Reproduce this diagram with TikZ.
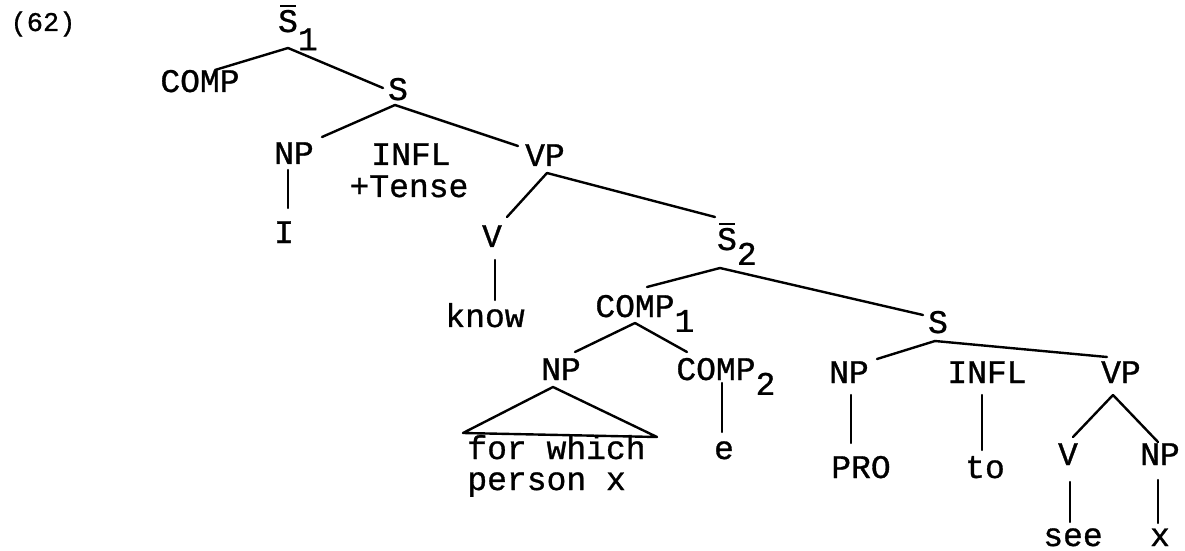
\documentclass[tikz,border=0pt]{standalone}
\usepackage{fontspec}
\setmainfont{Liberation Mono}
\newfontfamily\typewriter{Liberation Mono}[FakeBold=0.9]
\usetikzlibrary{calc}

% category with an overbar (S-bar)
\newcommand\ovl[1]{\rlap{\makebox[0.6em]{\raisebox{0.76em}{\rule{0.46em}{1.2pt}}}}#1}
% lowered index that does not widen the label
\newcommand\dn[2][0.45em]{\rlap{\raisebox{-#1}{#2}}}
% branch between two labels, each end offset from the label's base point
\newcommand\br[4]{\draw[branch] ($(#1.base)+(#2)$) -- ($(#3.base)+(#4)$);}

\begin{document}
\begin{tikzpicture}[x=0.5pt,y=-0.5pt,
  lbl/.style={anchor=base,inner sep=0pt,font=\typewriter\fontsize{16.5}{20}\selectfont},
  lblw/.style={lbl,anchor=base west},
  branch/.style={line width=1.2pt,line cap=round}]
\useasboundingbox (0,0) rectangle (1185,551);

\node[lbl,font=\typewriter\fontsize{13.5}{16}\selectfont] (num) at (43,31) {(62)};

% upper clause
\node[lbl] (s1)    at (288,32)  {\ovl{S}\dn[0.55em]{1}};
\node[lbl] (comp)  at (200,92)  {COMP};
\node[lbl] (s)     at (398,100) {S};
\node[lbl] (np1)   at (294,164) {NP};
\node[lbl] (infl1) at (411,165) {INFL};
\node[lbl] (tense) at (409,197) {+Tense};
\node[lbl] (vp1)   at (545,166) {VP};
\node[lbl] (i)     at (284,243) {I};
\node[lbl] (v1)    at (492,247) {V};
\node[lbl] (know)  at (485,327) {know};

% embedded clause
\node[lbl] (s2)    at (727,250) {\ovl{S}\dn{2}};
\node[lbl] (comp1) at (635,317) {COMP\dn{1}};
\node[lbl] (s3)    at (938,333) {S};
\node[lbl] (np2)   at (561,380) {NP};
\node[lbl] (comp2) at (716,380) {COMP\dn{2}};
\node[lblw] (fw)   at (467,459) {for which};
\node[lblw] (px)   at (467,490) {person x};
\node[lbl] (e)     at (724,459) {e};
\node[lbl] (np3)   at (849,383) {NP};
\node[lbl] (infl2) at (987,383) {INFL};
\node[lbl] (vp2)   at (1121,383) {VP};
\node[lbl] (pro)   at (861,478) {PRO};
\node[lbl] (to)    at (985,478) {to};
\node[lbl] (v2)    at (1068,465) {V};
\node[lbl] (np4)   at (1160,465) {NP};
\node[lbl] (see)   at (1073,546) {see};
\node[lbl] (x)     at (1160,546) {x};

% branches
\br{s1}{0,16}{comp}{15,-22}
\br{s1}{0,16}{s}{-15,-12}
\br{s}{-3,5}{np1}{28,-27}
\br{s}{-3,5}{vp1}{-27,-20}
\br{np1}{-6,6}{i}{4,-35}
\br{vp1}{2,7}{v1}{15,-30}
\br{vp1}{2,7}{s2}{-12,-33}
\br{v1}{3,13}{know}{10,-27}
\br{s2}{-7,18}{comp1}{12,-30}
\br{s2}{-7,18}{s3}{-15,-18}
\br{comp1}{0,6}{np2}{14,-28}
\br{comp1}{0,6}{comp2}{-29,-28}
\br{comp2}{6,3}{e}{-2,-27}
\br{s3}{-3,8}{np3}{28,-24}
\br{s3}{-3,8}{vp2}{-14,-26}
\br{np3}{2,12}{pro}{-10,-35}
\br{infl2}{-5,12}{to}{-3,-28}
\br{vp2}{-8,12}{v2}{5,-28}
\br{vp2}{-8,12}{np4}{-2,-23}
\br{v2}{2,17}{see}{-3,-24}
\br{np4}{-2,15}{x}{-2,-23}

% triangle over the unanalysed phrase
\draw[branch,line join=round] ($(np2.base)+(-8,7)$) -- ($(fw.base west)+(-4,-26)$)
  -- ($(fw.base west)+(190,-22)$) -- cycle;
\end{tikzpicture}
\end{document}
